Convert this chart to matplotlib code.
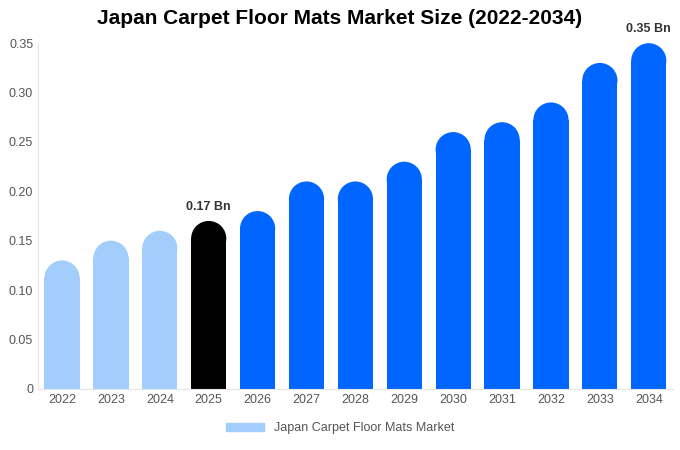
import matplotlib
matplotlib.use("Agg")
import matplotlib.pyplot as plt
from matplotlib.patches import Ellipse, Patch

plt.rcParams['font.family'] = ['Liberation Sans', 'DejaVu Sans']

years = ["2022","2023","2024","2025","2026","2027","2028","2029","2030","2031","2032","2033","2034"]
values = [0.13,0.15,0.16,0.17,0.18,0.21,0.21,0.23,0.26,0.27,0.29,0.33,0.35]
colors = ["#a3cdfc"]*3 + ["#000000"] + ["#0066ff"]*9
labels = {3: "0.17 Bn", 12: "0.35 Bn"}

fig = plt.figure(figsize=(6.8,4.5), dpi=100)
ax = fig.add_axes([0.056,0.136,0.934,0.768])
ax.set_xlim(-0.49,12.5)
ax.set_ylim(0,0.35)
w = 0.72
px_per_x = 0.934*680/(12.99)
px_per_y = 0.768*450/0.35
r = (w/2*px_per_x)/px_per_y
for i,(v,c) in enumerate(zip(values,colors)):
    ax.bar(i, v-r, width=w, color=c, linewidth=0, zorder=2)
    ax.add_patch(Ellipse((i, v-r), w, 2*r, facecolor=c, linewidth=0, zorder=2))
    if i in labels:
        ax.text(i, v+0.008, labels[i], ha="center", va="bottom", fontsize=9, fontweight="bold", color="#333333")
ax.set_xticks(range(len(years)))
ax.set_xticklabels(years)
ax.set_yticks([0,0.05,0.10,0.15,0.20,0.25,0.30,0.35])
ax.set_yticklabels(["0","0.05","0.10","0.15","0.20","0.25","0.30","0.35"])
ax.tick_params(length=0, labelsize=9, colors="#555555")
for s in ["top","right"]:
    ax.spines[s].set_visible(False)
ax.spines["left"].set_color("#e6e6e6")
ax.spines["bottom"].set_color("#e6e6e6")
fig.suptitle("Japan Carpet Floor Mats Market Size (2022-2034)", x=0.5, y=0.98, fontsize=15, fontweight="bold")
fig.legend(handles=[Patch(color="#a3cdfc", label="Japan Carpet Floor Mats Market")],
           loc="lower center", bbox_to_anchor=(0.5,0.01), frameon=False, fontsize=9,
           handlelength=3, labelcolor="#555555")
fig.savefig("out.png")
